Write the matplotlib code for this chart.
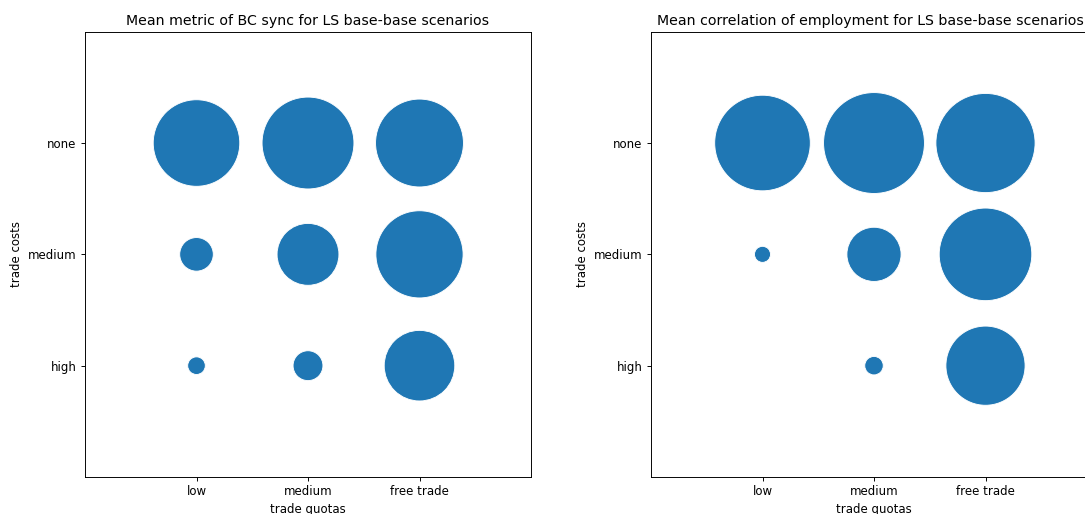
import numpy as np
import matplotlib
matplotlib.use('Agg')
import matplotlib.pyplot as plt

# *** Data *** #
trade_quotas = ['low', 'medium', 'free trade']
trade_costs = ['high', 'medium', 'none']  # bottom -> top

# Mean metric (relative, 0..1), rows = trade_costs, cols = trade_quotas
bc_sync = [
    [0.028, 0.084, 0.486],  # high
    [0.107, 0.372, 0.745],  # medium
    [0.734, 0.828, 0.757],  # none
]
empl_corr = [
    [np.nan, 0.031, 0.613],  # high
    [0.023, 0.284, 0.841],   # medium
    [0.897, 1.000, 0.966],   # none
]

titles = ['Mean metric of BC sync for LS base-base scenarios',
          'Mean correlation of employment for LS base-base scenarios']

# *** Figure settings *** #
W, H, DPI = 1085, 514, 85
max_diam_px = 100  # bubble diameter (pixels) for value 1.0
lw = 0.75


def bubble_plot(ax, values, title, title_x=0.5):
    vals = np.array(values, dtype=float)
    xs, ys, ss = [], [], []
    for i, row in enumerate(vals):
        for j, v in enumerate(row):
            if np.isnan(v):
                continue
            xs.append(j)
            ys.append(i)
            d_pt = np.sqrt(v) * max_diam_px * 72.0 / DPI
            ss.append((d_pt + lw) ** 2)
    ax.scatter(xs, ys, s=ss, color='#1f77b4', edgecolors='white', linewidths=lw, zorder=3)
    ax.set_xlim(-1, len(trade_quotas))
    ax.set_ylim(-1, len(trade_costs))
    ax.set_xticks(range(len(trade_quotas)))
    ax.set_xticklabels(trade_quotas)
    ax.set_yticks(range(len(trade_costs)))
    ax.set_yticklabels(trade_costs)
    ax.set_xlabel('trade quotas')
    ax.set_ylabel('trade costs')
    ax.set_title(title, fontsize=12, x=title_x)


fig = plt.figure(figsize=(W / DPI, H / DPI), dpi=DPI)

# axes boxes in pixels: left, top, right, bottom (right panel runs past the edge)
boxes = [(85, 31.7, 531, 477), (651, 31.7, 1097, 477)]
title_xs = [0.5, 0.492]
for (l, t, r, b), vals, title, tx in zip(boxes, [bc_sync, empl_corr], titles, title_xs):
    ax = fig.add_axes([l / W, (H - b) / H, (r - l) / W, (b - t) / H])
    bubble_plot(ax, vals, title, tx)

plt.savefig('out.png', dpi=DPI)
